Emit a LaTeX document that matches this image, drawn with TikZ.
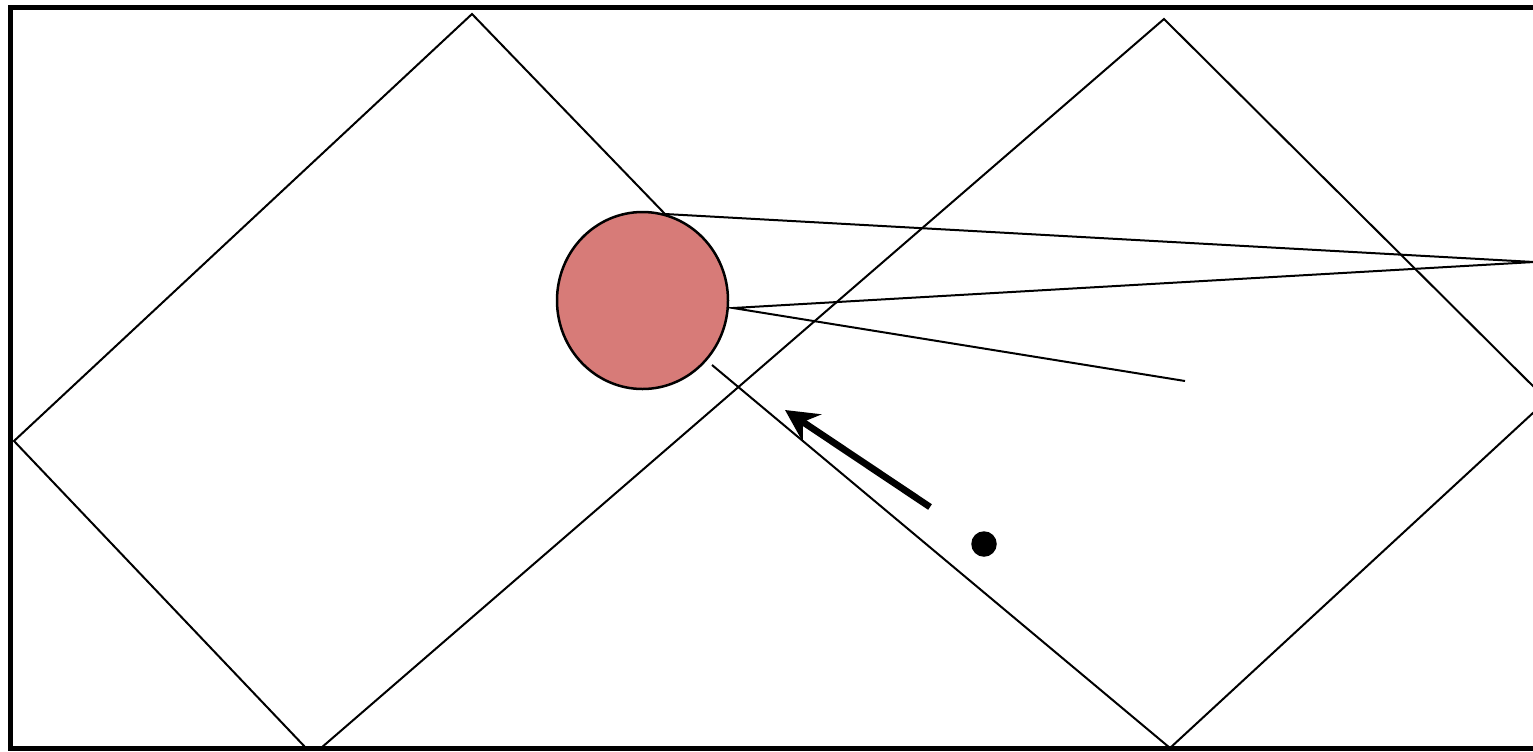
\documentclass[tikz,border=0pt]{standalone}
\usetikzlibrary{arrows.meta, shapes.geometric}
\definecolor{ballFill}{RGB}{215,123,120}
\definecolor{ink}{RGB}{0,0,0}
\tikzset{
  frameline/.style={draw=ink, line width=1mm},
  edgeline/.style={draw=ink, line width=0.4mm, line join=miter},
  ray/.style={draw=ink, line width=0.4mm},
  ball/.style={
    ellipse,
    draw=ink,
    line width=0.5mm,
    fill=ballFill,
    inner sep=0pt,
    minimum width=34.2mm,
    minimum height=35.4mm
  },
  push/.style={-{Stealth[length=6.5mm, width=6.6mm, inset=2.2mm]}, draw=ink, line width=1.35mm},
  spot/.style={circle, fill=ink, inner sep=0pt, minimum size=5.1mm}
}

\begin{document}
\begin{tikzpicture}[x=0.2mm, y=-0.2mm]
  \useasboundingbox (0,0) rectangle (1533,751);
  \clip (0,0) rectangle (1533,751);

  % corners of the two tilted squares
  \coordinate (lBotA) at (306,748);
  \coordinate (lLeft) at (14,441);
  \coordinate (lTop) at (472,14);
  \coordinate (lEnd) at (665,214);
  \coordinate (lBotB) at (321,748);
  \coordinate (rTop) at (1164,19);
  \coordinate (rRight) at (1547,400);
  \coordinate (rBot) at (1170,748);
  \coordinate (rStart) at (712,365);

  % ray path
  \coordinate (bounce) at (1534,262);
  \coordinate (back) at (733,308);
  \coordinate (rayEnd) at (1185,381);

  \coordinate (tail) at (930,507);
  \coordinate (tip) at (785,410);

  \draw[frameline] (10.5,7.5) rectangle (1545,748);

  \draw[edgeline] (lBotA) -- (lLeft) -- (lTop) -- (lEnd);
  \draw[edgeline] (lBotB) -- (rTop) -- (rRight) -- (rBot) -- (rStart);
  \draw[ray] (lEnd) -- (bounce) -- (back) -- (rayEnd);

  \node[ball] (ball) at (642.5,300.5) {};
  \draw[push] (tail) -- (tip);
  \node[spot] (dot) at (984,544) {};
\end{tikzpicture}
\end{document}
